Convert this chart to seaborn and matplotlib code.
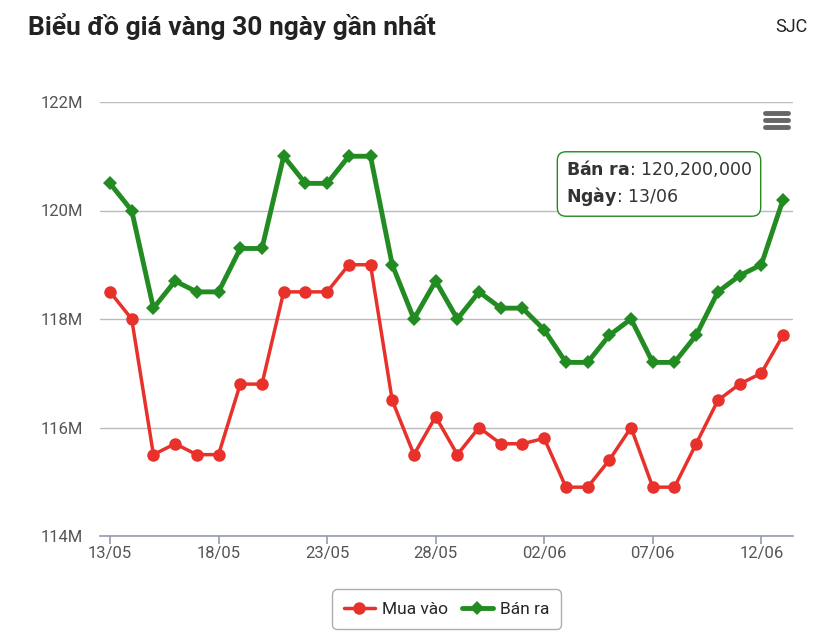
import matplotlib
matplotlib.use("Agg")
import matplotlib.pyplot as plt
import seaborn as sns
import pandas as pd
import numpy as np

dates = ["13/05","14/05","15/05","16/05","17/05","18/05","19/05","20/05","21/05","22/05",
         "23/05","24/05","25/05","26/05","27/05","28/05","29/05","30/05","31/05","01/06",
         "02/06","03/06","04/06","05/06","06/06","07/06","08/06","09/06","10/06","11/06",
         "12/06","13/06"]
mua_vao = [118.5,118.0,115.5,115.7,115.5,115.5,116.8,116.8,118.5,118.5,118.5,119.0,119.0,116.5,
           115.5,116.2,115.5,116.0,115.7,115.7,115.8,114.9,114.9,115.4,116.0,114.9,114.9,115.7,
           116.5,116.8,117.0,117.7]
ban_ra = [120.5,120.0,118.2,118.7,118.5,118.5,119.3,119.3,121.0,120.5,120.5,121.0,121.0,119.0,
          118.0,118.7,118.0,118.5,118.2,118.2,117.8,117.2,117.2,117.7,118.0,117.2,117.2,117.7,
          118.5,118.8,119.0,120.2]
y_ticks = [114,116,118,120,122]

sns.set_theme(style="white")
plt.rcParams['font.family'] = ['Roboto', 'DejaVu Sans']

df = pd.DataFrame({"x": np.arange(len(dates)), "Mua vào": mua_vao, "Bán ra": ban_ra})
fig = plt.figure(figsize=(8.17, 6.44), dpi=100)
ax = fig.add_axes([100/817, 1-536/644, 693/817, 434/644])

sns.lineplot(data=df, x="x", y="Mua vào", ax=ax, color="#e8312b", lw=2.5,
             marker="o", markersize=9, markeredgewidth=0)
sns.lineplot(data=df, x="x", y="Bán ra", ax=ax, color="#228b22", lw=3.5,
             marker="D", markersize=7, markeredgewidth=0)

ax.set_xlim(-0.46, 31.46)
ax.set_ylim(114, 122)
ax.set_yticks(y_ticks)
ax.set_yticklabels([f"{v}M" for v in y_ticks], color="#555555", fontsize=12)
xt = list(range(0, 32, 5))
ax.set_xticks(xt)
ax.set_xticklabels([dates[i] for i in xt], color="#555555", fontsize=12)
ax.set_xlabel(""); ax.set_ylabel("")
ax.grid(axis="y", color="#bbbbbb", lw=1)
for s in ["top", "right", "left"]:
    ax.spines[s].set_visible(False)
ax.spines["bottom"].set_color("#9aa0b0")
ax.tick_params(axis="x", length=6, color="#9aa0b0", bottom=True, pad=1)
ax.tick_params(axis="y", length=0, pad=12)

fig.text(28/817, 1-27/644, "Biểu đồ giá vàng 30 ngày gần nhất", fontsize=19, fontweight="bold",
         va="center", color="#222222")
fig.text(808/817, 1-27/644, "SJC", fontsize=13, ha="right", va="center", color="#222222")

# menu icon
for yy in [113, 120, 127]:
    fig.add_artist(plt.Line2D([765/817, 788/817], [1-yy/644]*2, color="#666666", lw=3.5,
                              solid_capstyle="round"))

# tooltip
ax.annotate("$\\bf{Bán\\ ra}$: 120,200,000\n$\\bf{Ngày}$: 13/06", xy=(31, 120.2),
            xytext=(566/817, 1-183/644), textcoords="figure fraction", fontsize=12.5,
            va="center", ha="left", color="#333333", linespacing=1.3,
            family="DejaVu Sans",
            bbox=dict(boxstyle="round,pad=0.5", fc="white", ec="#228b22", lw=1))

leg = ax.legend(handles=ax.lines[:2], labels=["Mua vào", "Bán ra"], loc="upper center",
                bbox_to_anchor=(0.5, -0.115), ncol=2, frameon=True, fontsize=12.5,
                handlelength=1.8, columnspacing=0.8, handletextpad=0.4)
leg.get_frame().set_edgecolor("#999999")
leg.get_frame().set_boxstyle("round,pad=0.3")
fig.savefig("out.png", dpi=100)
